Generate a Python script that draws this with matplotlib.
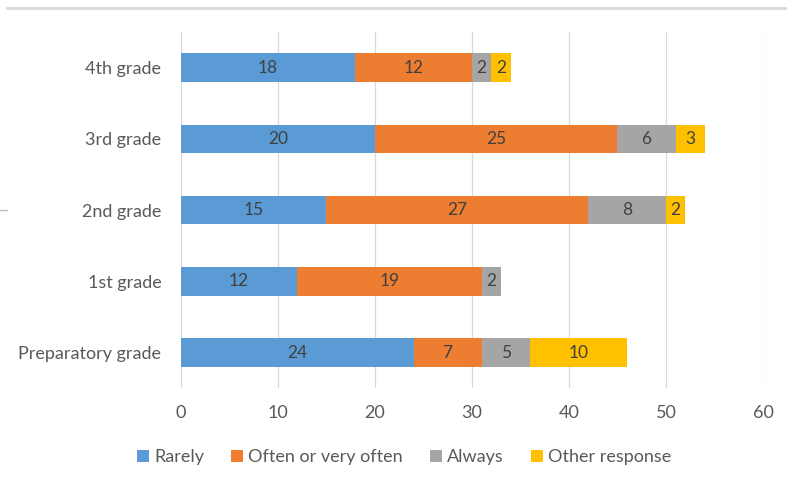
import matplotlib.pyplot as plt
from matplotlib.lines import Line2D
import numpy as np

plt.rcParams['font.family'] = ['Lato', 'DejaVu Sans']

grades = ["Preparatory grade", "1st grade", "2nd grade", "3rd grade", "4th grade"]
series = ["Rarely", "Often or very often", "Always", "Other response"]
rarely = [24, 12, 15, 20, 18]
often = [7, 19, 27, 25, 12]
always = [5, 2, 8, 6, 2]
other = [10, 0, 2, 3, 2]
colors = ["#5B9BD5", "#ED7D31", "#A5A5A5", "#FFC000"]

fig = plt.figure(figsize=(7.87, 4.84), dpi=100)
ax = fig.add_axes([0.2296, 0.198, 0.7399, 0.736])

y = np.arange(len(grades))
left = np.zeros(len(grades))
for vals, name, col in zip([rarely, often, always, other], series, colors):
    vals = np.array(vals, dtype=float)
    bars = ax.barh(y, vals, left=left, height=0.4, color=col, label=name, zorder=3)
    for b, v in zip(bars, vals):
        if v > 0:
            ax.text(b.get_x() + b.get_width() / 2, b.get_y() + b.get_height() / 2,
                    f"{int(v)}", ha="center", va="center", fontsize=12.5,
                    color="#404040", zorder=4)
    left += vals

ax.set_xlim(0, 60)
ax.set_ylim(-0.5, len(grades) - 0.5)
ax.set_xticks(range(0, 61, 10))
ax.set_yticks(y)
ax.set_yticklabels(grades)
ax.tick_params(axis="both", length=0, labelsize=13, labelcolor="#595959")
ax.tick_params(axis="x", pad=12)
ax.tick_params(axis="y", pad=14)
ax.grid(axis="x", color="#D9D9D9", linewidth=0.9, zorder=0)
for s in ax.spines.values():
    s.set_visible(False)

ax.legend(loc="center", bbox_to_anchor=(0.384, -0.194), ncol=4, frameon=False,
          fontsize=13, handlelength=0.65, handleheight=0.65, handletextpad=0.3,
          columnspacing=1.5, labelcolor="#595959")

# outer border remnants
fig.add_artist(Line2D([7 / 787, 1], [1 - 8 / 484] * 2, color="#D9D9D9", linewidth=2))
fig.add_artist(Line2D([0, 7 / 787], [1 - 210 / 484] * 2, color="#BFBFBF", linewidth=1))

fig.savefig("out.png", dpi=100)
